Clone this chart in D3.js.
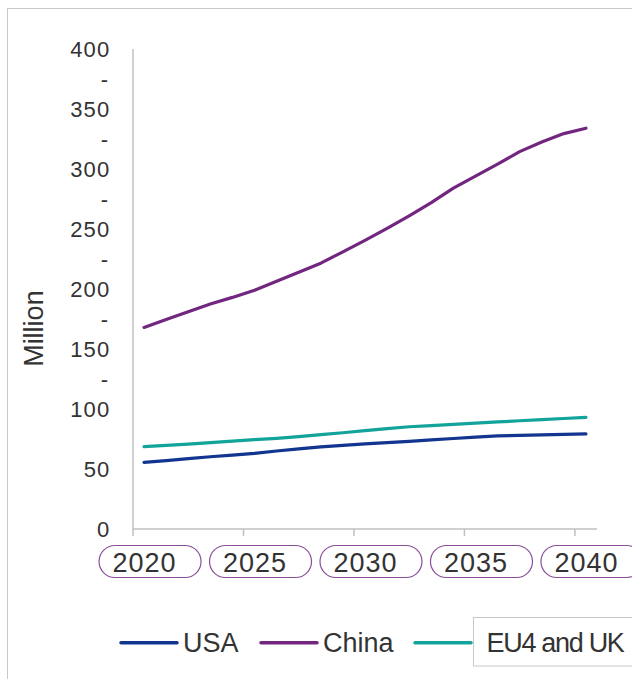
<!DOCTYPE html>
<html>
<head>
<meta charset="utf-8">
<script src="https://cdn.jsdelivr.net/npm/d3@7"></script>
<style>
  html, body { margin: 0; padding: 0; background: #fff; }
  svg { display: block; }
  text { font-family: "Liberation Sans", Arial, sans-serif; fill: #333; }
</style>
</head>
<body>
<svg id="chart" width="632" height="679"></svg>
<script>
const years = d3.range(2020, 2041);
const usa =   [55.6, 57.0, 58.6, 60.2, 61.5, 63.0, 65.0, 66.8, 68.5, 69.7, 70.9, 72.0, 73.1, 74.3, 75.4, 76.5, 77.6, 78.0, 78.4, 78.8, 79.2];
const china = [168, 174.5, 181, 187.5, 193, 199, 206.5, 214, 221.5, 231, 240.5, 250.5, 261, 272, 284, 294, 304, 314.5, 322.5, 329.5, 334];
const eu4uk = [68.6, 69.7, 70.8, 72.0, 73.2, 74.4, 75.6, 77.0, 78.6, 80.2, 82.0, 83.6, 85.2, 86.2, 87.2, 88.2, 89.2, 90.2, 91.2, 92.1, 93.0];
const seriesNames = ["USA", "China", "EU4 and UK"];
const seriesColors = ["#12358f", "#72267f", "#12a39a"];
const yTickValues = [0, 50, 100, 150, 200, 250, 300, 350, 400];
const yDashValues = [125, 175, 225, 275, 325, 375];
const xTickYears = [2020, 2025, 2030, 2035, 2040];
const yTitle = "Million";

const series = [usa, china, eu4uk];
const svg = d3.select("#chart");

// outer frame
svg.append("rect").attr("x", 7.5).attr("y", 8.5).attr("width", 700).attr("height", 700)
  .attr("fill", "none").attr("stroke", "#c8c8c8").attr("stroke-width", 1);

const x = d3.scaleBand().domain(years).range([133, 597]).padding(0);
const y = d3.scaleLinear().domain([0, 400]).range([529, 49]);
const cx = d => x(d) + x.bandwidth() / 2;

// y axis line
svg.append("line").attr("x1", 133).attr("x2", 133).attr("y1", y(400)).attr("y2", y(0))
  .attr("stroke", "#c0c0c0").attr("stroke-width", 1.5);
// x axis line
svg.append("line").attr("x1", 133).attr("x2", 597).attr("y1", y(0)).attr("y2", y(0))
  .attr("stroke", "#c0c0c0").attr("stroke-width", 1.5);
// x ticks at category boundaries
svg.selectAll("line.xt").data(xTickYears).enter().append("line")
  .attr("x1", d => x(d)).attr("x2", d => x(d)).attr("y1", y(0)).attr("y2", y(0) + 7)
  .attr("stroke", "#c0c0c0").attr("stroke-width", 1.5);

// y tick labels
svg.selectAll("text.yl").data(yTickValues).enter().append("text")
  .attr("x", 110.5).attr("y", d => y(d)).attr("dy", "0.36em")
  .attr("text-anchor", "end").attr("font-size", 22).attr("letter-spacing", 1.2)
  .text(d => d);
svg.selectAll("text.yd").data(yDashValues).enter().append("text")
  .attr("x", 108).attr("y", d => y(d)).attr("dy", "0.36em")
  .attr("text-anchor", "end").attr("font-size", 22)
  .text("-");

// y title
svg.append("text").attr("transform", `translate(43,${y(167)}) rotate(-90)`)
  .attr("text-anchor", "middle").attr("font-size", 27).text(yTitle);

// x labels with rounded boxes
const xl = svg.selectAll("g.xl").data(xTickYears).enter().append("g");
xl.append("rect")
  .attr("x", d => cx(d) - 45).attr("y", 545.5).attr("width", 102).attr("height", 32)
  .attr("rx", 16).attr("ry", 16)
  .attr("fill", "#fff").attr("stroke", "#8a4f9a").attr("stroke-width", 1.2);
xl.append("text")
  .attr("x", d => cx(d) + 0.5).attr("y", 571.5)
  .attr("text-anchor", "middle").attr("font-size", 27).attr("letter-spacing", 1)
  .text(d => d);

// lines
const line = d3.line().x((d, i) => cx(years[i])).y(d => y(d)).curve(d3.curveLinear);
svg.selectAll("path.s").data(series).enter().append("path")
  .attr("d", d => line(d))
  .attr("fill", "none")
  .attr("stroke", (d, i) => seriesColors[i])
  .attr("stroke-width", 3.2)
  .attr("stroke-linejoin", "round").attr("stroke-linecap", "round");

// legend
const legX = [121, 261, 415];
const leg = svg.selectAll("g.leg").data(seriesNames).enter().append("g");
leg.append("line")
  .attr("x1", (d, i) => legX[i]).attr("x2", (d, i) => legX[i] + 56)
  .attr("y1", 642.7).attr("y2", 642.7)
  .attr("stroke", (d, i) => seriesColors[i]).attr("stroke-width", 3.5).attr("stroke-linecap", "round");
// box around third legend item
svg.append("rect").attr("x", 473.5).attr("y", 617.5).attr("width", 170).attr("height", 48.5)
  .attr("fill", "none").attr("stroke", "#c8c8c8").attr("stroke-width", 1);
leg.append("text")
  .attr("x", (d, i) => i === 2 ? 486.5 : legX[i] + 62)
  .attr("y", 651.5)
  .attr("font-size", 27)
  .attr("letter-spacing", (d, i) => i === 2 ? -1.3 : 0)
  .text(d => d);
</script>
</body>
</html>
